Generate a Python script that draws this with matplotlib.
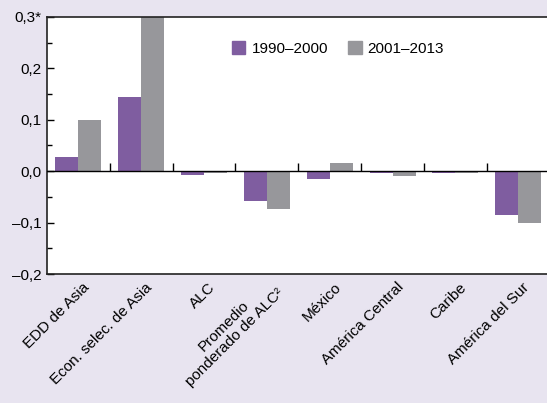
import numpy as np
import matplotlib
matplotlib.use("Agg")
import matplotlib.pyplot as plt
import matplotlib.transforms as mtrans
from matplotlib.patches import Patch

categories = ["EDD de Asia", "Econ. selec. de Asia", "ALC",
              "Promedio\nponderado de ALC\u00b2", "México", "América Central",
              "Caribe", "América del Sur"]
serie_1990_2000 = [0.027, 0.144, -0.007, -0.058, -0.015, -0.003, -0.003, -0.086]
serie_2001_2013 = [0.099, 0.32, -0.003, -0.074, 0.015, -0.010, -0.003, -0.101]
ytick_vals = [-0.2, -0.1, 0.0, 0.1, 0.2, 0.3]
ytick_labels = ["\u20130,2", "\u20130,1", "0,0", "0,1", "0,2", "0,3*"]

bg = "#E8E4F0"
purple = "#7F5DA0"
grey = "#97979B"

plt.rcParams['font.family'] = ['Liberation Sans', 'DejaVu Sans']

fig = plt.figure(figsize=(5.47, 4.03), dpi=100, facecolor=bg)
ax = fig.add_axes([47/547, 129/403, 502.6/547, 257/403])
ax.set_facecolor("white")

x = np.arange(len(categories)) + 0.5
w = 0.366
ax.bar(x - w/2, serie_1990_2000, w, color=purple, zorder=2)
ax.bar(x + w/2, serie_2001_2013, w, color=grey, zorder=2)

ax.set_xlim(0, len(categories))
ax.set_ylim(-0.2, 0.3)

ax.axhline(0, color="black", lw=1.0, zorder=3)
ax.vlines(np.arange(1, len(categories)), 0, 0.016, color="black", lw=1.0, zorder=3)

ax.set_yticks(ytick_vals)
ax.set_yticklabels(ytick_labels, fontsize=11)
ax.set_yticks(np.arange(-0.15, 0.3, 0.1), minor=True)
ax.tick_params(axis="y", which="major", direction="in", length=5, width=1, pad=4)
ax.tick_params(axis="y", which="minor", direction="in", length=3.5, width=1)

ax.set_xticks(x)
ax.set_xticklabels(categories, rotation=45, rotation_mode="anchor",
                   ha="right", va="center", fontsize=11, multialignment="center")
ax.tick_params(axis="x", length=0, pad=8)
shift = mtrans.ScaledTranslation(9/100, 0, fig.dpi_scale_trans)
for lab in ax.get_xticklabels():
    lab.set_transform(lab.get_transform() + shift)

for s in ax.spines.values():
    s.set_linewidth(1.2)
    s.set_color("#222222")

handles = [Patch(color=purple, label="1990\u20132000"),
           Patch(color=grey, label="2001\u20132013")]
ax.legend(handles=handles, loc="upper left", bbox_to_anchor=(0.34, 0.96),
          ncol=2, frameon=False, fontsize=11, handlelength=0.9, handleheight=0.9,
          handletextpad=0.4, columnspacing=1.3)

fig.savefig("out.png", dpi=100, facecolor=bg)
